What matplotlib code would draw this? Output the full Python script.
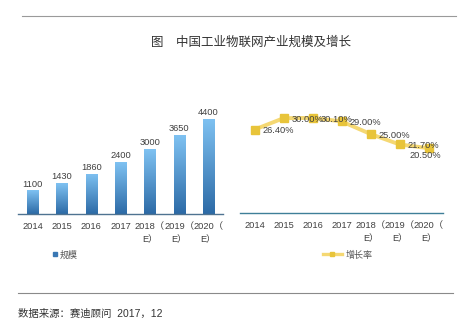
import numpy as np
import matplotlib
matplotlib.use("Agg")
import matplotlib.pyplot as plt
from matplotlib.lines import Line2D
from matplotlib.colors import LinearSegmentedColormap

plt.rcParams['font.family'] = ['Liberation Sans', 'Noto Sans CJK SC', 'DejaVu Sans']

# data
years = ["2014", "2015", "2016", "2017", "2018（\nE）", "2019（\nE）", "2020（\nE）"]
scale = [1100, 1430, 1860, 2400, 3000, 3650, 4400]
growth = [26.40, 30.00, 30.10, 29.00, 25.00, 21.70, 20.50]

title = "图　中国工业物联网产业规模及增长"
source = "数据来源：赛迪顾问  2017，12"

txt = "#404040"
fig = plt.figure(figsize=(4.74, 3.30), dpi=100)
fig.patch.set_facecolor("white")

# ---- left: bars
ax1 = fig.add_axes([18/474, 1-214/330, 205/474, 108/330])
x = np.arange(len(years))
bars = ax1.bar(x, scale, width=0.38, color="none", edgecolor="none")
cmap = LinearSegmentedColormap.from_list("b", ["#2c6aa6", "#7fc2f2"])
grad = np.linspace(0, 1, 256).reshape(-1, 1)
for b, v in zip(bars, scale):
    im = ax1.imshow(grad, cmap=cmap, origin="lower", aspect="auto",
                    extent=[b.get_x(), b.get_x() + b.get_width(), 0, v], zorder=2)
    im.set_clip_path(b)
    ax1.text(b.get_x() + b.get_width()/2, v + 80, str(v), ha="center", va="bottom",
             fontsize=6.7, color=txt)
ax1.set_xlim(-0.5, len(years) - 0.5)
ax1.set_ylim(0, 5000)
ax1.set_yticks([])
ax1.set_xticks(x)
ax1.set_xticklabels(years, fontsize=6.7, color=txt, linespacing=1.5)
ax1.tick_params(axis="x", length=0, pad=6)
for s in ["top", "right", "left"]:
    ax1.spines[s].set_visible(False)
ax1.spines["bottom"].set_color("#4f7391")
ax1.spines["bottom"].set_linewidth(1.0)

# ---- right: growth line
ax2 = fig.add_axes([240/474, 1-213/330, 203/474, 110.6/330])
ax2.plot(x, growth, color="#f5d873", lw=2.8, marker="s", markersize=5.5,
         markerfacecolor="#e8c43a", markeredgecolor="#e8c43a", zorder=2)
for i, g in enumerate(growth):
    if i == len(growth) - 1:
        dx, dy = -14, -5.5
    else:
        dx, dy = 6, -1
    ax2.annotate(f"{g:.2f}%", (i, g), xytext=(dx, dy), textcoords="offset points",
                 ha="left", va="center", fontsize=6.7, color=txt, zorder=3)
ax2.set_xlim(-0.5, len(years) - 0.5)
ax2.set_ylim(0, 35)
ax2.set_yticks([])
ax2.set_xticks(x)
ax2.set_xticklabels(years, fontsize=6.7, color=txt, linespacing=1.5)
ax2.tick_params(axis="x", length=0, pad=6)
for s in ["top", "right", "left"]:
    ax2.spines[s].set_visible(False)
ax2.spines["bottom"].set_color("#3f7f98")
ax2.spines["bottom"].set_linewidth(1.0)

# ---- legends
h1 = Line2D([], [], marker="s", linestyle="none", markersize=3.5,
            markerfacecolor="#3a78b4", markeredgecolor="#3a78b4")
fig.legend([h1], ["规模"], loc="center left", bbox_to_anchor=(48/474, 1-255/330),
           frameon=False, fontsize=6.5, labelcolor="#555555", handlelength=0.6,
           handletextpad=0.2, borderpad=0)
h2 = Line2D([], [], color="#f5d873", lw=2.4, marker="s", markersize=3,
            markerfacecolor="#e8c43a", markeredgecolor="#e8c43a")
fig.legend([h2], ["增长率"], loc="center left", bbox_to_anchor=(318/474, 1-255/330),
           frameon=False, fontsize=6.5, labelcolor="#555555", handlelength=2.2,
           handletextpad=0.4, borderpad=0)

# ---- title, rules, source
fig.text(251/474, 1-43/330, title, ha="center", va="center", fontsize=9, color="#333333")
fig.add_artist(Line2D([22/474, 456/474], [1-16/330, 1-16/330], color="#9a9a9a", lw=0.8))
fig.add_artist(Line2D([18/474, 453/474], [1-293/330, 1-293/330], color="#8a8a8a", lw=0.8))
fig.text(18/474, 1-314/330, source, ha="left", va="center", fontsize=7.5, color="#333333")

fig.savefig("out.png", dpi=100)
